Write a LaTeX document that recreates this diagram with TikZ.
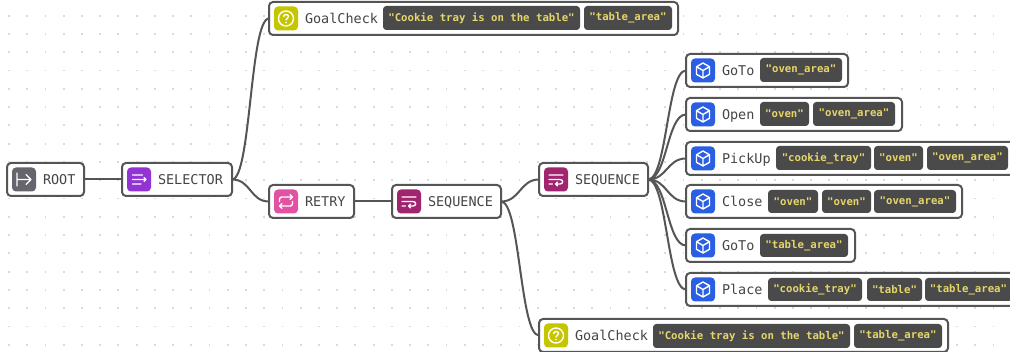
\documentclass[tikz,border=0pt]{standalone}
\usepackage{fontspec}
\newfontfamily\labelfont{DejaVu Sans Mono}
\newfontfamily\tagfont{DejaVu Sans Mono}[BoldFont={DejaVu Sans Mono Bold}]
\definecolor{ink}{HTML}{555555}
\definecolor{labelink}{HTML}{454545}
\definecolor{tagbg}{HTML}{4A4A4A}
\definecolor{tagink}{HTML}{E6D66A}
\definecolor{gridgray}{HTML}{DADADA}
\definecolor{rootc}{HTML}{66656D}
\definecolor{selc}{HTML}{9234D3}
\definecolor{retryc}{HTML}{E252A2}
\definecolor{seqc}{HTML}{A1246F}
\definecolor{goalc}{HTML}{C6C600}
\definecolor{actc}{HTML}{2B5FE3}
\tikzset{
  framebox/.style={draw=ink,line width=1.5pt,rounded corners=3pt,fill=white,inner sep=0pt,outer sep=0pt},
  iconbox/.style={rounded corners=3pt,inner sep=0pt,outer sep=0pt,minimum width=18pt,minimum height=18pt},
  tagbox/.style={fill=tagbg,rounded corners=2.5pt,inner sep=0pt,outer sep=0pt,text=tagink,font=\tagfont\bfseries\fontsize{8}{8}\selectfont},
  labeltext/.style={anchor=base west,inner sep=0pt,outer sep=0pt,text=labelink,font=\labelfont\fontsize{10.1}{12}\selectfont},
  edge/.style={draw=ink,line width=1.5pt},
  glyph/.style={draw=white,line width=1.05pt,line cap=round,line join=round},
}
\newcommand{\behav}[8]{% name x1 y1 x2 y2 colour label glyph
  \pgfmathsetmacro{\cx}{(#2+#4)/2}\pgfmathsetmacro{\cy}{(#3+#5)/2}
  \pgfmathsetmacro{\bw}{(#4-#2)*0.75}\pgfmathsetmacro{\bh}{(#5-#3)*0.75}
  \node[framebox,minimum width=\bw pt,minimum height=\bh pt] (#1) at (\cx,\cy) {};
  \node[iconbox,fill=#6] (#1i) at ({#2+17},\cy) {};
  \node[labeltext] (#1t) at ({#2+36},{\cy+4.6}) {#7};
  #8{#1i}
}
\newcommand{\tagn}[6]{% name x1 y1 x2 y2 text
  \pgfmathsetmacro{\cx}{(#2+#4)/2}\pgfmathsetmacro{\cy}{(#3+#5)/2}
  \pgfmathsetmacro{\bw}{(#4-#2)*0.75}\pgfmathsetmacro{\bh}{(#5-#3)*0.75}
  \node[tagbox,minimum width=\bw pt,minimum height=\bh pt] (#1) at (\cx,\cy) {#6};
}
\newcommand{\glyphroot}[1]{\begin{scope}[shift={(#1.center)}]
  \draw[glyph] (-7,-6.5) -- (-7,6.5) (-7,0) -- (7,0) (2,-5) -- (7,0) -- (2,5);\end{scope}}
\newcommand{\glyphsel}[1]{\begin{scope}[shift={(#1.center)}]
  \draw[glyph] (-6.5,-4.5) -- (3.5,-4.5) (-6.5,0) -- (7,0) (5,-2) -- (7,0) -- (5,2) (-6.5,4.5) -- (2,4.5);\end{scope}}
\newcommand{\glyphretry}[1]{\begin{scope}[shift={(#1.center)}]
  \draw[glyph] (-6.5,0) -- (-6.5,-2) .. controls (-6.5,-4) and (-5.5,-4.5) .. (-4,-4.5) -- (6.5,-4.5) (4,-7) -- (6.5,-4.5) -- (4,-2)
     (6.5,0) -- (6.5,2) .. controls (6.5,4) and (5.5,4.5) .. (4,4.5) -- (-6.5,4.5) (-4,2) -- (-6.5,4.5) -- (-4,7);\end{scope}}
\newcommand{\glyphseq}[1]{\begin{scope}[shift={(#1.center)}]
  \draw[glyph] (-7,-4.5) -- (7,-4.5) (-7,0) -- (4,0) .. controls (7.5,0) and (7.5,4.5) .. (4,4.5) -- (-0.5,4.5) (1.5,2.5) -- (-0.5,4.5) -- (1.5,6.5) (-7,4.5) -- (-3.5,4.5);\end{scope}}
\newcommand{\glyphgoal}[1]{\begin{scope}[shift={(#1.center)}]
  \draw[glyph] (0,0) circle[radius=7.5];
  \draw[glyph] (-2.4,-2) .. controls (-2.4,-4.6) and (2.6,-4.6) .. (2.6,-2) .. controls (2.6,-0.2) and (0,-0.2) .. (0,1.5);
  \draw[glyph] (0,4) -- (0,4.1);\end{scope}}
\newcommand{\glyphact}[1]{\begin{scope}[shift={(#1.center)}]
  \draw[glyph] (0,-7.5) -- (6.5,-3.8) -- (6.5,3.8) -- (0,7.5) -- (-6.5,3.8) -- (-6.5,-3.8) -- cycle
     (-6.5,-3.8) -- (0,0) -- (6.5,-3.8) (0,0) -- (0,7.5);\end{scope}}
\begin{document}
\begin{tikzpicture}[x=0.75pt,y=-0.75pt]
\useasboundingbox (0,0) rectangle (1010,352);
\fill[white] (0,0) rectangle (1010,352);
\clip (0,0) rectangle (1010,352);
\foreach \i in {0,...,55}{\foreach \j in {0,...,18}{
  \fill[gridgray] ({9+18.23*\i-0.9},{15.7+18.28*\j-0.9}) rectangle ++(1.8,1.8);}}
\behav{root}{7}{163}{84}{196}{rootc}{ROOT}{\glyphroot}
\behav{sel}{122}{163}{232}{196}{selc}{SELECTOR}{\glyphsel}
\behav{retry}{269}{185}{354}{218}{retryc}{RETRY}{\glyphretry}
\behav{seqa}{392}{185}{501}{218}{seqc}{SEQUENCE}{\glyphseq}
\behav{seqb}{539}{163}{648}{196}{seqc}{SEQUENCE}{\glyphseq}
\behav{goala}{269}{2}{678}{35}{goalc}{GoalCheck}{\glyphgoal}
\tagn{ga1}{383}{6}{580}{30}{"Cookie tray is on the table"}
\tagn{ga2}{584}{6}{672}{30}{"table\_area"}
\behav{gotoa}{686}{54}{848}{87}{actc}{GoTo}{\glyphact}
\tagn{ta1}{760}{58}{842}{82}{"oven\_area"}
\behav{open}{686}{98}{902}{131}{actc}{Open}{\glyphact}
\tagn{to1}{760}{102}{809}{126}{"oven"}
\tagn{to2}{813}{102}{895}{126}{"oven\_area"}
\behav{pick}{686}{142}{1015}{175}{actc}{PickUp}{\glyphact}
\tagn{tp1}{776}{146}{871}{170}{"cookie\_tray"}
\tagn{tp2}{874}{146}{923}{170}{"oven"}
\tagn{tp3}{927}{146}{1008}{170}{"oven\_area"}
\behav{close}{686}{185}{962}{218}{actc}{Close}{\glyphact}
\tagn{tc1}{768}{190}{818}{213}{"oven"}
\tagn{tc2}{822}{190}{871}{213}{"oven"}
\tagn{tc3}{874}{190}{956}{213}{"oven\_area"}
\behav{gotob}{686}{229}{855}{262}{actc}{GoTo}{\glyphact}
\tagn{tg1}{760}{234}{848}{257}{"table\_area"}
\behav{place}{686}{273}{1018}{306}{actc}{Place}{\glyphact}
\tagn{tl1}{768}{278}{862}{301}{"cookie\_tray"}
\tagn{tl2}{867}{278}{922}{301}{"table"}
\tagn{tl3}{925}{278}{1012}{301}{"table\_area"}
\behav{goalb}{539}{319}{948}{352}{goalc}{GoalCheck}{\glyphgoal}
\tagn{gb1}{653}{324}{850}{348}{"Cookie tray is on the table"}
\tagn{gb2}{854}{324}{942}{348}{"table\_area"}
\draw[edge] (root.east) -- (sel.west);
\draw[edge] (retry.east) -- (seqa.west);
\draw[edge] (sel.east) .. controls +(19,0) and +(-19,0) .. (goala.west);
\draw[edge] (sel.east) .. controls +(19,0) and +(-19,0) .. (retry.west);
\draw[edge] (seqa.east) .. controls +(19,0) and +(-19,0) .. (seqb.west);
\draw[edge] (seqa.east) .. controls +(19,0) and +(-19,0) .. (goalb.west);
\foreach \tgt in {gotoa,open,pick,close,gotob,place}
  \draw[edge] (seqb.east) .. controls +(19,0) and +(-19,0) .. (\tgt.west);
\end{tikzpicture}
\end{document}
